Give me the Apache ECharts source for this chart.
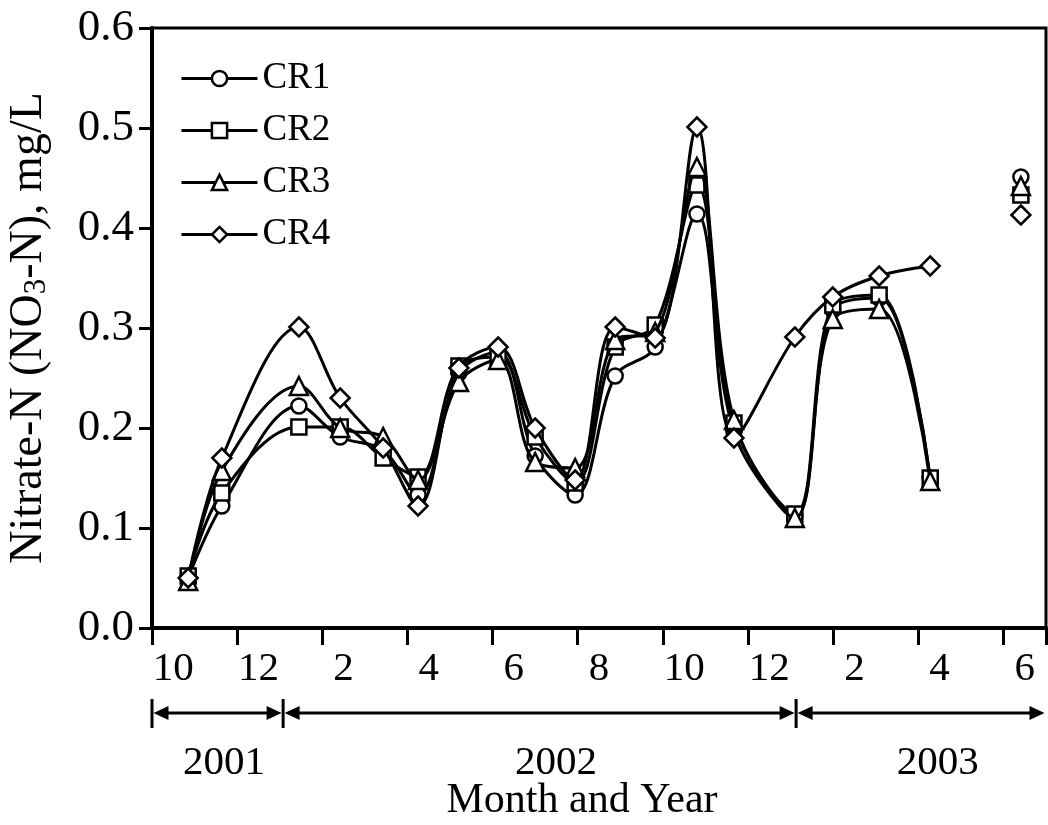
<!DOCTYPE html>
<html>
<head>
<meta charset="utf-8">
<script src="https://cdn.jsdelivr.net/npm/echarts@6/dist/echarts.min.js"></script>
<style>html,body{margin:0;padding:0;background:#fff}#c{width:1048px;height:825px}</style>
</head>
<body>
<div id="c"></div>
<script>
// Month categories (Oct 2001 .. Jun 2003), one band per month
var monthLabels = ['10','11','12','1','2','3','4','5','6','7','8','9','10','11','12','1','2','3','4','5','6'];
// Sampling times in months since 1 Oct 2001 (null value marks the gap)
var sampleMonths = [0.85, 1.64, 3.45, 4.42, 5.43, 6.25, 7.21, 8.13, 9.00, 9.94, 10.88, 11.82, 12.80, 13.67, 15.10, 15.99, 17.08, 18.28, 19.35, 20.41];
var cr1 = [0.050, 0.122, 0.222, 0.191, 0.178, 0.133, 0.255, 0.276, 0.172, 0.133, 0.252, 0.281, 0.414, 0.196, 0.112, 0.318, 0.330, 0.150, null, 0.451];
var cr2 = [0.052, 0.135, 0.201, 0.201, 0.170, 0.151, 0.262, 0.271, 0.191, 0.145, 0.281, 0.303, 0.443, 0.205, 0.114, 0.323, 0.333, 0.150, null, 0.433];
var cr3 = [0.047, 0.157, 0.242, 0.200, 0.191, 0.148, 0.246, 0.268, 0.166, 0.160, 0.288, 0.296, 0.461, 0.208, 0.110, 0.309, 0.319, 0.147, null, 0.442];
var cr4 = [0.050, 0.170, 0.301, 0.230, 0.180, 0.122, 0.260, 0.281, 0.200, 0.148, 0.301, 0.290, 0.501, 0.190, 0.291, 0.331, 0.352, 0.362, null, 0.413];
var seriesNames = ['CR1','CR2','CR3','CR4'];
var yTicks = [0, 0.6, 0.1]; // min, max, interval
// Year spans (month boundaries) and label positions
var yearBounds = [0, 3.08, 15.13, 21];
var yearNames = ['2001','2002','2003'];
var yearLabelAt = [1.69, 9.49, 18.46];

var FONT = '"Liberation Serif", "Times New Roman", serif';
function build(v){ return sampleMonths.map(function(m,i){ return [m, v[i]==null ? '-' : v[i]]; }); }
var symbols = ['circle','rect','triangle','diamond'];
var sizes = [15, 15, 18, 19];
var vals = [cr1, cr2, cr3, cr4];

var chart = echarts.init(document.getElementById('c'), null, {renderer:'canvas'});
var option = {
  animation: false,
  backgroundColor: '#fff',
  grid: {left: 152, right: 2, top: 28, bottom: 197, containLabel: false, outerBoundsMode: 'none',
    show: true, borderColor: '#000', borderWidth: 3, backgroundColor: 'transparent'},
  legend: {
    orient: 'vertical', left: 175, top: 55, itemWidth: 76, itemHeight: 19, itemGap: 15,
    textStyle: {fontFamily: FONT, fontSize: 37, color: '#000', lineHeight: 36},
    lineStyle: {width: 3, color: '#000'},
    itemStyle: {borderWidth: 2.5, borderColor: '#000', color: '#fff'},
    data: seriesNames
  },
  xAxis: [{
    type: 'category', data: monthLabels, boundaryGap: true,
    axisLine: {lineStyle: {color: '#000', width: 4}},
    axisTick: {show: true, length: 17, lineStyle: {color: '#000', width: 3}},
    axisLabel: {interval: 1, fontFamily: FONT, fontSize: 41, color: '#000', margin: 21},
    splitLine: {show: false}
  },{
    type: 'value', min: 0, max: 21, show: false
  }],
  yAxis: {
    type: 'value', min: yTicks[0], max: yTicks[1], interval: yTicks[2],
    name: 'Nitrate-N (NO{sub|3}-N), mg/L', nameLocation: 'middle', nameGap: 100, nameRotate: 90,
    nameTextStyle: {fontFamily: FONT, fontSize: 46, color: '#000',
      rich: {sub: {fontFamily: FONT, fontSize: 31, color: '#000', padding: [16, 0, 0, 0]}}},
    axisLine: {show: true, lineStyle: {color: '#000', width: 4}},
    axisTick: {show: true, length: 13, lineStyle: {color: '#000', width: 3}},
    axisLabel: {fontFamily: FONT, fontSize: 45, color: '#000', margin: 18,
      formatter: function(v){ return v.toFixed(1); }},
    splitLine: {show: false}
  },
  series: seriesNames.map(function(n, k){
    return {
      name: n, type: 'line', xAxisIndex: 1, data: build(vals[k]),
      smooth: 0.35, connectNulls: false,
      symbol: symbols[k], symbolSize: sizes[k], showAllSymbol: true,
      lineStyle: {color: '#000', width: 3},
      itemStyle: {color: '#fff', borderColor: '#000', borderWidth: 2.5},
      z: 2 + k
    };
  })
};
chart.setOption(option);

function px(v){ return chart.convertToPixel({xAxisIndex: 1}, v); }
var g = [];
var ay = 713, barTop = 699, barBot = 728, ah = 15, aw = 7;
// vertical bars at year boundaries (not at the far right end)
[yearBounds[0], yearBounds[1], yearBounds[2]].forEach(function(b){
  var x = px(b);
  g.push({type:'line', shape:{x1:x, y1:barTop, x2:x, y2:barBot}, style:{stroke:'#000', lineWidth:3}});
});
for (var i = 0; i < yearNames.length; i++) {
  var x1 = px(yearBounds[i]) + 1.5, x2 = px(yearBounds[i+1]) - 1.5;
  g.push({type:'line', shape:{x1:x1+ah-2, y1:ay, x2:x2-ah+2, y2:ay}, style:{stroke:'#000', lineWidth:3}});
  g.push({type:'polygon', shape:{points:[[x1,ay],[x1+ah,ay-aw],[x1+ah,ay+aw]]}, style:{fill:'#000'}});
  g.push({type:'polygon', shape:{points:[[x2,ay],[x2-ah,ay-aw],[x2-ah,ay+aw]]}, style:{fill:'#000'}});
  g.push({type:'text', x: px(yearLabelAt[i]), y: 763, style:{text: yearNames[i], font: '41px ' + FONT, fill:'#000', align:'center', verticalAlign:'middle'}});
}
g.push({type:'text', x: 582, y: 801, style:{text: 'Month and Year', font: '42px ' + FONT, fill:'#000', align:'center', verticalAlign:'middle'}});
chart.setOption({graphic: g});
</script>
</body>
</html>
